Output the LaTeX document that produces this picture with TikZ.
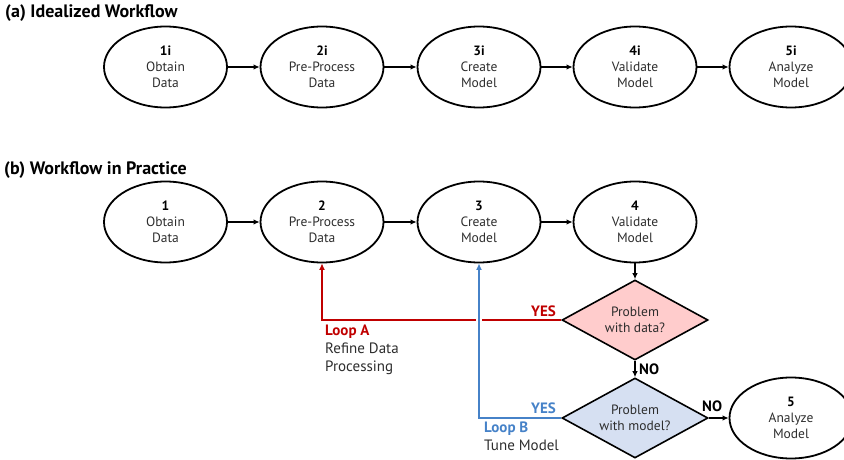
\documentclass[tikz,border=0pt]{standalone}
\usepackage{fontspec}
\setmainfont{PT Sans}
\usetikzlibrary{shapes.geometric,arrows.meta}
\definecolor{loopred}{RGB}{192,0,0}
\definecolor{loopblue}{RGB}{70,130,200}
\definecolor{datafill}{RGB}{255,204,204}
\definecolor{modelfill}{RGB}{214,224,242}
\definecolor{bodytext}{RGB}{45,45,45}
\tikzset{
  stage/.style={ellipse, draw, line width=1.8pt, minimum width=123pt, minimum height=81pt,
    inner sep=0pt, align=center, font=\fontsize{13.5}{16}\selectfont, text=bodytext},
  check/.style={diamond, draw, line width=1.6pt, aspect=1.825, minimum width=146pt,
    minimum height=80pt, inner sep=0pt, align=center, font=\fontsize{13.5}{16}\selectfont, text=bodytext},
  flow/.style={line width=1.8pt, -{Latex[length=6pt,width=5.5pt]}},
  loopline/.style={line width=2pt, -{Latex[length=6.5pt,width=6pt]}},
  heading/.style={anchor=base west, font=\fontsize{18}{20}\selectfont\bfseries, inner sep=0pt},
  answer/.style={font=\fontsize{15}{17}\selectfont\bfseries, inner sep=0pt},
  note/.style={anchor=north west, align=left, inner sep=0pt, font=\fontsize{15}{18}\selectfont, text=bodytext},
}
\newcommand{\num}[1]{\textbf{\color{black}#1}}
\begin{document}
\begin{tikzpicture}[x=1pt,y=-1pt]
\useasboundingbox (0,0) rectangle (844,460);

% (a) idealized workflow
\node[heading] (ta) at (5,18) {(a) Idealized Workflow};
\node[stage] (a1) at (165.5,67) {\num{1i}\\Obtain\\Data};
\node[stage] (a2) at (322,67) {\num{2i}\\Pre-Process\\Data};
\node[stage] (a3) at (479,67) {\num{3i}\\Create\\Model};
\node[stage] (a4) at (635,67) {\num{4i}\\Validate\\Model};
\node[stage] (a5) at (791,67) {\num{5i}\\Analyze\\Model};
\draw[flow] (a1) -- (a2);
\draw[flow] (a2) -- (a3);
\draw[flow] (a3) -- (a4);
\draw[flow] (a4) -- (a5);

% (b) workflow in practice
\node[heading] (tb) at (4,174) {(b) Workflow in Practice};
\node[stage] (b1) at (165.5,222) {\num{1}\\Obtain\\Data};
\node[stage] (b2) at (322,222) {\num{2}\\Pre-Process\\Data};
\node[stage] (b3) at (479,222) {\num{3}\\Create\\Model};
\node[stage] (b4) at (635,222) {\num{4}\\Validate\\Model};
\node[check, fill=datafill] (d1) at (635,320) {Problem\\with data?};
\node[check, fill=modelfill] (d2) at (635,418) {Problem\\with model?};
\node[stage] (b5) at (791,418) {\num{5}\\Analyze\\Model};

\draw[flow] (b1) -- (b2);
\draw[flow] (b2) -- (b3);
\draw[flow] (b3) -- (b4);
\draw[flow] (b4) -- (d1);
\draw[flow] (d1) -- (d2);
\draw[flow] (d2) -- (b5);

% feedback loops; the blue one crosses the red one through a small gap
\draw[loopline, loopred] (d1.west) -| (b2.south);
\draw[white, line width=6pt] (479,314) -- (479,326);
\draw[loopline, loopblue] (d2.west) -| (b3.south);

% branch labels
\node[answer, text=loopred, anchor=base east] (ya) at (556,316) {YES};
\node[answer, text=loopblue, anchor=base east] (yb) at (556,413) {YES};
\node[answer, anchor=base west] (na) at (639,374) {NO};
\node[answer, anchor=base west] (nb) at (702,411) {NO};

\node[note] (la) at (325,325) {\textbf{\color{loopred}Loop A}\\Refine Data\\Processing};
\node[note] (lb) at (484,422) {\textbf{\color{loopblue}Loop B}\\Tune Model};
\end{tikzpicture}
\end{document}
